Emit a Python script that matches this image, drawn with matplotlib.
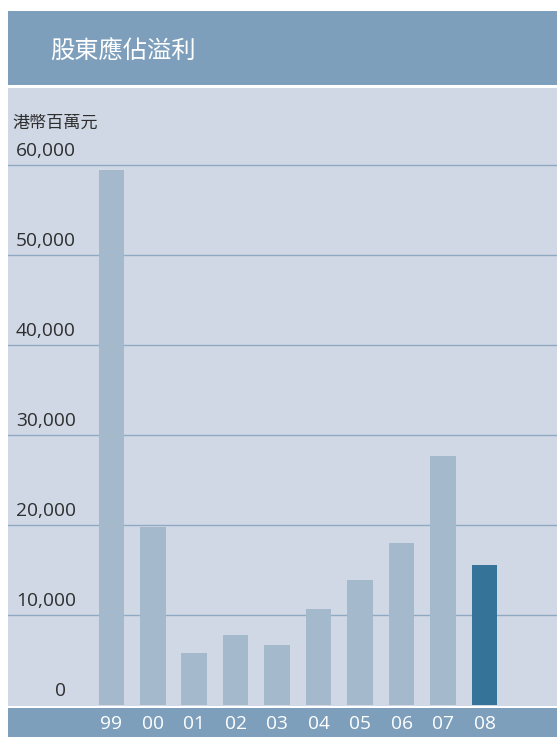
import matplotlib
matplotlib.use("Agg")
import matplotlib.pyplot as plt
from matplotlib.patches import Rectangle
from matplotlib.transforms import blended_transform_factory, offset_copy

years = ["99", "00", "01", "02", "03", "04", "05", "06", "07", "08"]
profits = [59500, 19700, 5700, 7700, 6600, 10600, 13900, 18000, 27700, 15500]
yticks = [0, 10000, 20000, 30000, 40000, 50000, 60000]
ytick_labels = ["0", "10,000", "20,000", "30,000", "40,000", "50,000", "60,000"]
title = "股東應佔溢利"
unit = "港幣百萬元"

W, H = 557, 737
fig = plt.figure(figsize=(W / 100, H / 100), dpi=100)
fig.patch.set_facecolor("white")

def fx(px):
    return px / W

def fy(py):
    return 1 - py / H

header_c = "#7d9fbc"
panel_c = "#d0d8e6"
bar_c = "#a5b9cc"
hi_c = "#367398"
grid_c = "#8fa9c2"

cjk = ["Noto Sans CJK TC", "DejaVu Sans"]
num_font = ["Open Sans", "DejaVu Sans"]

# header band
fig.patches.append(Rectangle((fx(8), fy(85)), fx(549), 74 / H, transform=fig.transFigure,
                             facecolor=header_c, edgecolor="none", zorder=0))
# bottom band
fig.patches.append(Rectangle((fx(8), 0), fx(549), fy(708), transform=fig.transFigure,
                             facecolor=header_c, edgecolor="none", zorder=0))

fig.text(fx(50), fy(52), title, color="white", fontsize=17.5, family=cjk, va="center", ha="left")

# main axes
ax = fig.add_axes([fx(8), fy(706), fx(549), (706 - 88) / H])
ax.set_facecolor(panel_c)
for s in ax.spines.values():
    s.set_visible(False)
ax.set_xticks([])
ax.set_yticks([])

zero_px = 707.5
top_val_px = 165.7
scale = (zero_px - top_val_px) / 60000
ax.set_ylim((zero_px - 706) / scale * -1, (zero_px - 88) / scale)

c0 = 111.3
step = 41.47
ax.set_xlim((8 - c0) / step, (557 - c0) / step)

xs = list(range(len(years)))
colors = [bar_c] * (len(years) - 1) + [hi_c]
ax.bar(xs, profits, width=0.615, color=colors, zorder=2)

for v in yticks[1:]:
    ax.axhline(v, color=grid_c, lw=1.0, zorder=1)

trans = blended_transform_factory(fig.transFigure, ax.transData)
for v, lab in zip(yticks, ytick_labels):
    xpos = fx(66) if v == 0 else fx(76)
    t = offset_copy(trans, fig=fig, x=0, y=14 * 72 / 100, units="points")
    ax.text(xpos, v, lab, transform=t, ha="right", va="center", fontsize=13.8,
            family=num_font, color="#2e2e2e")

fig.text(fx(12), fy(123), unit, fontsize=12.3, family=cjk, color="#2e2e2e", va="center", ha="left")

# x labels in bottom band
xtrans = blended_transform_factory(ax.transData, fig.transFigure)
for x, lab in zip(xs, years):
    fig.text(x, fy(724), lab, transform=xtrans, ha="center", va="center", fontsize=13.8,
             family=num_font, color="white")

fig.savefig("out.png", dpi=100)
